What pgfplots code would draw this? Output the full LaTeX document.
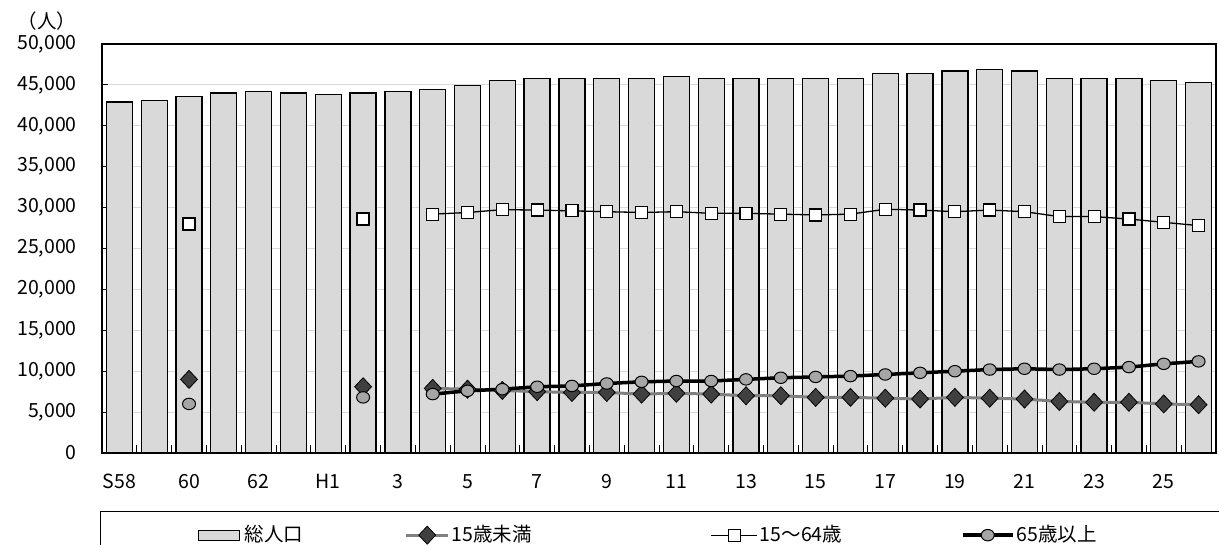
\documentclass[border=0pt]{standalone}
\usepackage{pgfplots}
\pgfplotsset{compat=1.18}
\usepackage{fontspec}
\setmainfont{Noto Sans CJK JP}
\definecolor{barfill}{HTML}{D9D9D9}
\definecolor{gridgray}{HTML}{D9D9D9}
\definecolor{kidgray}{HTML}{808080}
\definecolor{diafill}{HTML}{404040}
\definecolor{circfill}{HTML}{A6A6A6}
\newcommand{\lf}{\fontsize{19.5}{23}\selectfont}
\pgfplotsset{
  barlegend/.style={legend image code/.code={\draw[fill=barfill, draw=black, line width=1.2pt] (0pt,-5pt) rectangle (41pt,5pt);}},
  linelegend/.style={legend image code/.code={\draw[##1, mark repeat=2, mark phase=2] plot coordinates {(0pt,0pt) ({#1/2},0pt) (#1,0pt)};}},
}
\begin{document}
\lf
\begin{tikzpicture}
\useasboundingbox (0,0) rectangle (1219pt,544pt);
\begin{axis}[
  at={(102pt,91pt)}, anchor=south west,
  scale only axis, width=1114pt, height=409pt,
  xmin=-0.5, xmax=31.5, ymin=0, ymax=50000,
  xtick={0,2,...,30},
  xticklabels={S58,60,62,H1,3,5,7,9,11,13,15,17,19,21,23,25},
  minor xtick={0.5,1.5,...,30.5},
  major x tick style={draw=none},
  minor x tick style={black, line width=0.8pt},
  minor tick length=8pt,
  major tick length=6pt,
  ytick={0,5000,...,50000},
  scaled y ticks=false,
  yticklabels={0,{5,000},{10,000},{15,000},{20,000},{25,000},{30,000},{35,000},{40,000},{45,000},{50,000}},
  y tick style={black, line width=0.8pt},
  xtick pos=bottom, ytick pos=left,
  ymajorgrids, major grid style={gridgray, line width=1pt},
  axis line style={line width=1.5pt},
  tick label style={font=\lf},
  xticklabel style={yshift=-14.5pt},
  yticklabel style={xshift=-18.5pt},
  unbounded coords=jump,
  legend columns=4,
  legend cell align=left,
  legend style={at={(0,0)}, anchor=north west, xshift=-2pt, yshift=-58pt,
    draw=black, line width=1pt, font=\lf, inner xsep=97pt, inner ysep=14pt,
    nodes={inner sep=0pt}, column sep=0pt},
]
\addplot[ybar, bar width=26pt, bar shift=0pt, fill=barfill, draw=black, line width=1.3pt, barlegend]
coordinates {
(0,42900) (1,43100) (2,43600) (3,44000) (4,44200) (5,44000) (6,43800) (7,44000)
(8,44200) (9,44400) (10,44900) (11,45500) (12,45750) (13,45750) (14,45750) (15,45750)
(16,46000) (17,45750) (18,45750) (19,45750) (20,45750) (21,45750) (22,46400) (23,46400)
(24,46700) (25,46900) (26,46700) (27,45750) (28,45750) (29,45750) (30,45500) (31,45300)
};
\addlegendentry{\makebox[165pt][l]{\hspace{5pt}総人口}}

\addplot[kidgray, line width=3pt, mark=diamond*, mark size=9pt,
  mark options={fill=diafill, draw=black, line width=0.8pt, xscale=1.25},
  linelegend=42pt]
coordinates {
(2,9000) (3,nan) (7,8100) (8,nan)
(9,7900) (10,7800) (11,7650) (12,7500) (13,7400) (14,7400) (15,7200) (16,7300)
(17,7200) (18,7000) (19,7000) (20,6800) (21,6800) (22,6700) (23,6600) (24,6800)
(25,6700) (26,6600) (27,6300) (28,6200) (29,6200) (30,6000) (31,5900)
};
\addlegendentry{\makebox[261pt][l]{\hspace{2pt}15歳未満}}

\addplot[black, line width=1.3pt, mark=square*, mark size=6pt,
  mark options={fill=white, draw=black, line width=1.2pt},
  linelegend=46pt]
coordinates {
(2,28000) (3,nan) (7,28600) (8,nan)
(9,29200) (10,29400) (11,29750) (12,29700) (13,29600) (14,29500) (15,29400) (16,29500)
(17,29300) (18,29300) (19,29200) (20,29100) (21,29200) (22,29800) (23,29700) (24,29500)
(25,29700) (26,29500) (27,28900) (28,28900) (29,28600) (30,28200) (31,27800)
};
\addlegendentry{\makebox[203pt][l]{\hspace{2pt}15～64歳}}

\addplot[black, line width=3.5pt, mark=*, mark size=6.5pt,
  mark options={fill=circfill, draw=black, line width=1pt, yscale=0.88},
  linelegend=50pt]
coordinates {
(2,6000) (3,nan) (7,6800) (8,nan)
(9,7200) (10,7600) (11,7800) (12,8100) (13,8200) (14,8500) (15,8700) (16,8800)
(17,8800) (18,9000) (19,9200) (20,9300) (21,9400) (22,9600) (23,9800) (24,10000)
(25,10200) (26,10300) (27,10200) (28,10300) (29,10500) (30,10900) (31,11200)
};
\addlegendentry{\makebox[300pt][l]{\hspace{2pt}65歳以上}}
\end{axis}
\node[font=\lf] at (47pt,523pt) {（人）};
\end{tikzpicture}
\end{document}
